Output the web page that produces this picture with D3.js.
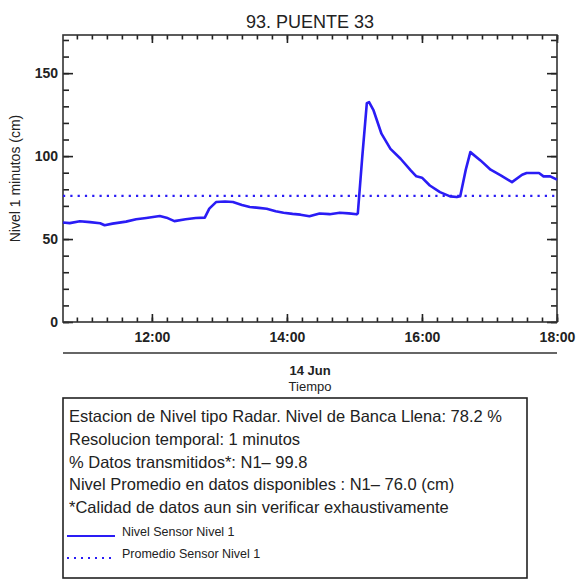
<!DOCTYPE html>
<html>
<head>
<meta charset="utf-8">
<script src="https://cdn.jsdelivr.net/npm/d3@7"></script>
<style>
  body { margin: 0; background: #fff; }
  text { font-family: "Liberation Sans", Arial, Helvetica, sans-serif; fill: #222; }
</style>
</head>
<body>
<div id="chart"></div>
<script>
// data
var times = ["10:41","10:47","10:56","11:05","11:14","11:18","11:25","11:37","11:46","11:55",
  "12:07","12:13","12:20","12:30","12:39","12:47","12:51","12:57","13:05","13:12",
  "13:20","13:27","13:35","13:42","13:50","13:57","14:05","14:12","14:20","14:29",
  "14:38","14:47","14:55","15:02","15:03","15:07","15:11","15:13","15:17","15:24",
  "15:32","15:41","15:50","15:55","16:00","16:07","16:16","16:25","16:31","16:34",
  "16:39","16:43","16:52","17:01","17:10","17:20","17:29","17:33","17:44","17:48",
  "17:54","18:00"];
var nivel = [60.0,59.6,60.7,60.2,59.5,58.3,59.3,60.5,61.9,62.7,
  63.9,62.9,60.8,61.9,62.7,62.9,68.3,72.3,72.6,72.3,
  70.5,69.3,68.8,68.3,66.8,65.9,65.2,64.7,63.7,65.4,
  65.0,65.9,65.5,64.9,65.5,100,131.9,132.5,127.5,113.5,
  104.4,98.4,91.4,87.8,87.0,82.3,78.3,75.7,75.3,75.8,
  92,102.4,97.4,91.8,88.4,84.3,88.8,89.8,89.8,87.8,
  87.8,85.8];
var promedio = 76.0;
var yTicks = [0, 50, 100, 150];
var xTickLabels = ["12:00", "14:00", "16:00", "18:00"];
var infoLines = [
  "Estacion de Nivel tipo Radar. Nivel de Banca Llena: 78.2 %",
  "Resolucion temporal: 1 minutos",
  "% Datos transmitidos*: N1\u2013 99.8",
  "Nivel Promedio en datos disponibles : N1\u2013 76.0 (cm)",
  "*Calidad de datos aun sin verificar exhaustivamente"
];
var legendNames = ["Nivel Sensor Nivel 1", "Promedio Sensor Nivel 1"];

var svgWidth = 577;
var svgHeight = 583;
var margin = { top: 35, left: 63 };
var width = 494;
var height = 287;
var color = "#2a1cf5";

var parseTime = d3.timeParse("%H:%M");
var data = times.map(function(t, i) { return { t: parseTime(t), v: nivel[i] }; });

var svg = d3.select("#chart").append("svg")
  .attr("width", svgWidth)
  .attr("height", svgHeight);

var chartGroup = svg.append("g")
  .attr("transform", `translate(${margin.left}, ${margin.top})`);

var x = d3.scaleTime()
  .domain([parseTime("10:41"), parseTime("18:00")])
  .range([0, width]);
var y = d3.scaleLinear()
  .domain([0, 173])
  .range([height, 0]);

// minor ticks
var t12 = parseTime("12:00").getTime();
var step = 800 * 1000;
var xMinor = d3.range(t12 - 6 * step, x.domain()[1].getTime() + 1, step)
  .map(function(d) { return new Date(d); })
  .filter(function(d) { return d >= x.domain()[0] && d <= x.domain()[1]; });
var xMajor = xTickLabels.map(parseTime);
var yMinor = d3.range(0, 171, 10);

function noLabels(g) { g.selectAll("text").remove(); g.select(".domain").remove(); }

chartGroup.append("g").attr("transform", `translate(0, ${height})`)
  .call(d3.axisBottom(x).tickValues(xMinor).tickSize(-4.5)).call(noLabels);
chartGroup.append("g")
  .call(d3.axisTop(x).tickValues(xMinor).tickSize(-4.5)).call(noLabels);
chartGroup.append("g").call(d3.axisTop(x).tickValues(xMajor).tickSize(-8)).call(noLabels);
var xAxis = chartGroup.append("g").attr("transform", `translate(0, ${height})`)
  .call(d3.axisBottom(x).tickValues(xMajor).tickSize(-8).tickPadding(10).tickFormat(d3.timeFormat("%H:%M")));
xAxis.select(".domain").remove();
xAxis.selectAll("text").attr("font-size", "14px").attr("font-weight", "bold");

chartGroup.append("g").call(d3.axisLeft(y).tickValues(yMinor).tickSize(-6)).call(noLabels);
chartGroup.append("g").attr("transform", `translate(${width}, 0)`)
  .call(d3.axisRight(y).tickValues(yMinor).tickSize(-6)).call(noLabels);
chartGroup.append("g").attr("transform", `translate(${width}, 0)`)
  .call(d3.axisRight(y).tickValues(yTicks).tickSize(-10)).call(noLabels);
var yAxis = chartGroup.append("g")
  .call(d3.axisLeft(y).tickValues(yTicks).tickSize(-10).tickPadding(5));
yAxis.select(".domain").remove();
yAxis.selectAll("text").attr("font-size", "14px").attr("font-weight", "bold");

chartGroup.selectAll(".tick line").attr("stroke", "#222").attr("stroke-width", 1.6);

chartGroup.append("rect")
  .attr("width", width).attr("height", height)
  .attr("fill", "none").attr("stroke", "#333").attr("stroke-width", 1.6);

// mean line
chartGroup.append("line")
  .attr("x1", 0).attr("x2", width)
  .attr("y1", y(promedio)).attr("y2", y(promedio))
  .attr("stroke", color).attr("stroke-width", 2.2)
  .attr("stroke-dasharray", "2.2,5.1");

var line = d3.line().x(d => x(d.t)).y(d => y(d.v));
chartGroup.append("path")
  .datum(data)
  .attr("d", line)
  .attr("fill", "none")
  .attr("stroke", color)
  .attr("stroke-width", 2.6)
  .attr("stroke-linejoin", "round");

// title and axis labels
svg.append("text")
  .attr("x", margin.left + width / 2).attr("y", 28)
  .attr("text-anchor", "middle").attr("font-size", "18px")
  .text("93. PUENTE 33");

svg.append("text")
  .attr("transform", "rotate(-90)")
  .attr("x", -(margin.top + height / 2)).attr("y", 20)
  .attr("text-anchor", "middle").attr("font-size", "14px")
  .attr("fill", "#333")
  .text("Nivel 1 minutos (cm)");

svg.append("line")
  .attr("x1", margin.left).attr("x2", margin.left + width)
  .attr("y1", 353).attr("y2", 353)
  .attr("stroke", "#333").attr("stroke-width", 1.6);

svg.append("text")
  .attr("x", margin.left + width / 2).attr("y", 375)
  .attr("text-anchor", "middle").attr("font-size", "13px").attr("font-weight", "bold")
  .text("14 Jun");
svg.append("text")
  .attr("x", margin.left + width / 2).attr("y", 391)
  .attr("text-anchor", "middle").attr("font-size", "13px")
  .text("Tiempo");

// info box
svg.append("rect")
  .attr("x", 63).attr("y", 398).attr("width", 464).attr("height", 180)
  .attr("fill", "none").attr("stroke", "#222").attr("stroke-width", 1.6);

svg.selectAll(".info")
  .data(infoLines)
  .enter()
  .append("text")
  .classed("info", true)
  .attr("x", 69)
  .attr("y", (d, i) => 422 + i * 22.8)
  .attr("font-size", "16.5px")
  .text(d => d);

legendNames.forEach(function(name, i) {
  var ly = 536 + i * 22;
  svg.append("line")
    .attr("x1", 67).attr("x2", 115).attr("y1", ly).attr("y2", ly)
    .attr("stroke", color).attr("stroke-width", i === 0 ? 1.8 : 2)
    .attr("stroke-dasharray", i === 0 ? null : "2,5");
  svg.append("text")
    .attr("x", 122).attr("y", ly)
    .attr("font-size", "12.5px")
    .text(name);
});
</script>
</body>
</html>
